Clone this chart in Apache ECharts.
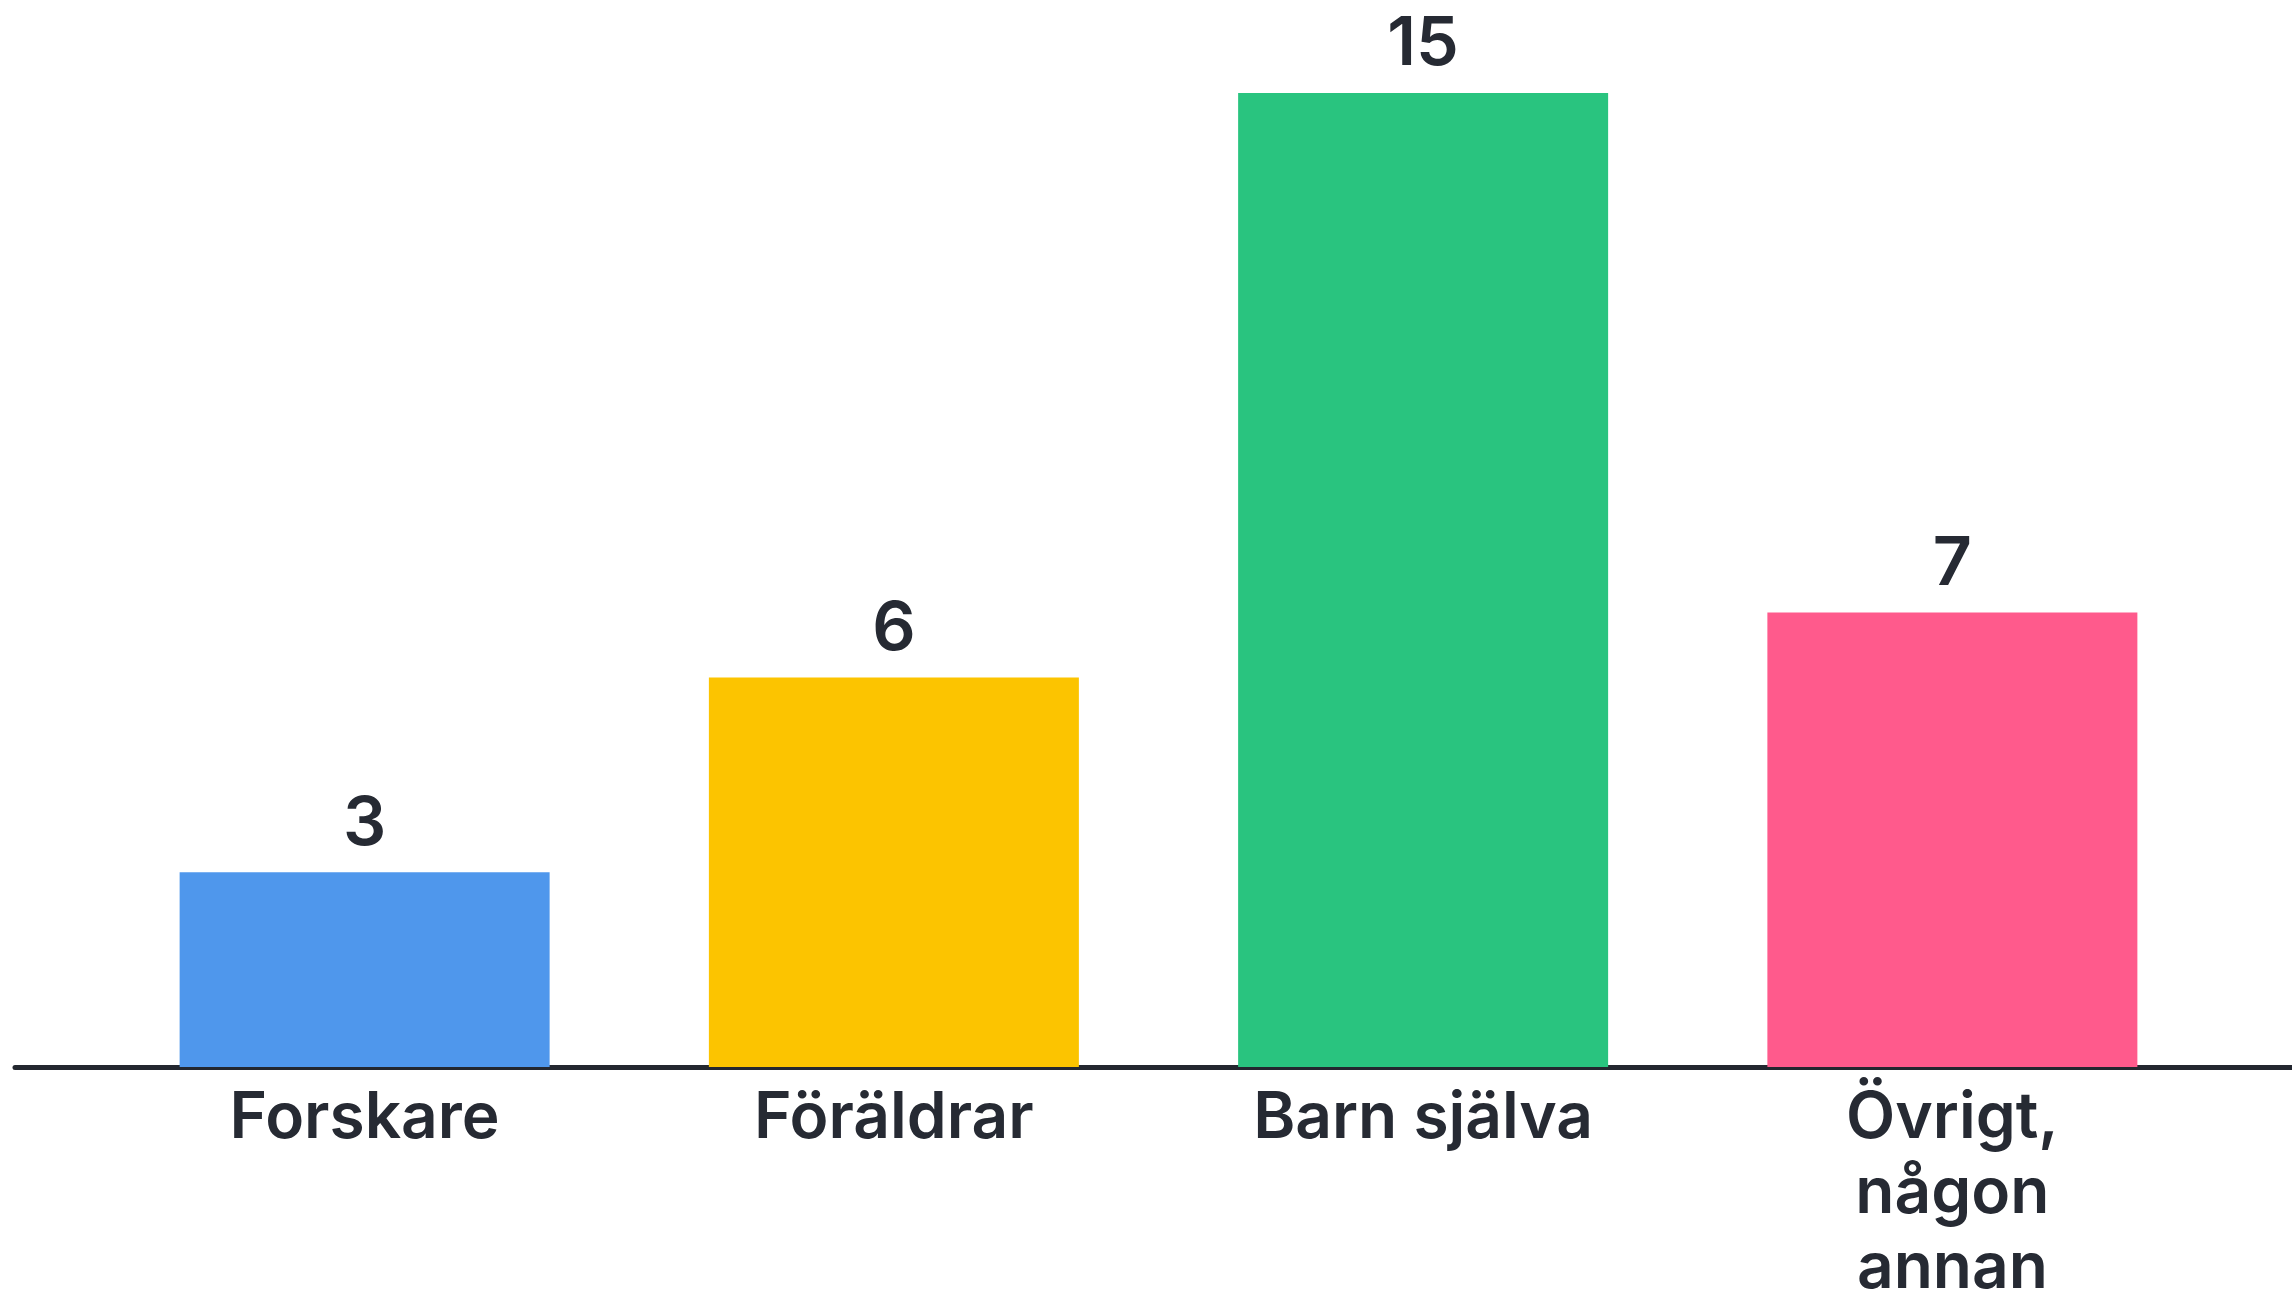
<!DOCTYPE html>
<html>
<head>
<meta charset="utf-8">
<script src="https://cdn.jsdelivr.net/npm/echarts@6/dist/echarts.min.js"></script>
<style>
html,body{margin:0;padding:0;background:#fff;}
#chart{width:2292px;height:1300px;}
</style>
</head>
<body>
<div id="chart"></div>
<script>
const categories = ['Forskare', 'Föräldrar', 'Barn själva', 'Övrigt, någon annan'];
const values = [3, 6, 15, 7];
const barColors = ['#4f97ec', '#fcc400', '#29c47f', '#ff5a8c'];

const chart = echarts.init(document.getElementById('chart'));
const textColor = '#262a33';
const fontFamily = 'Inter, "Noto Sans", sans-serif';

chart.setOption({
  backgroundColor: '#ffffff',
  animation: false,
  grid: [
    { left: 100, right: 75, top: 93, bottom: 233, containLabel: false, outerBoundsMode: 'none' },
    { left: 15, right: 0, top: 93, bottom: 233, containLabel: false, outerBoundsMode: 'none' }
  ],
  xAxis: [
    {
      type: 'category',
      gridIndex: 0,
      data: categories,
      axisLine: { show: false },
      axisTick: { show: false },
      axisLabel: {
        color: textColor,
        fontFamily: fontFamily,
        fontSize: 64,
        fontWeight: 600,
        lineHeight: 75,
        margin: 14,
        interval: 0,
        formatter: function (v) {
          const words = v.split(' ');
          return words.length > 2 ? words.join('\n') : v;
        }
      }
    },
    {
      type: 'value',
      gridIndex: 1,
      min: 0,
      max: 1,
      axisLine: { show: true, onZero: false, lineStyle: { color: '#23272f', width: 5 } },
      axisTick: { show: false },
      axisLabel: { show: false },
      splitLine: { show: false }
    }
  ],
  yAxis: [
    { type: 'value', gridIndex: 0, min: 0, max: 15, show: false, splitLine: { show: false } },
    { type: 'value', gridIndex: 1, min: 0, max: 1, show: false, splitLine: { show: false } }
  ],
  series: [
    {
      type: 'bar',
      xAxisIndex: 0,
      yAxisIndex: 0,
      barWidth: 370,
      data: values.map((v, i) => ({ value: v, itemStyle: { color: barColors[i] } })),
      label: {
        show: true,
        position: 'top',
        distance: 14,
        color: textColor,
        fontFamily: fontFamily,
        fontSize: 68,
        fontWeight: 600
      }
    }
  ]
});
</script>
</body>
</html>
